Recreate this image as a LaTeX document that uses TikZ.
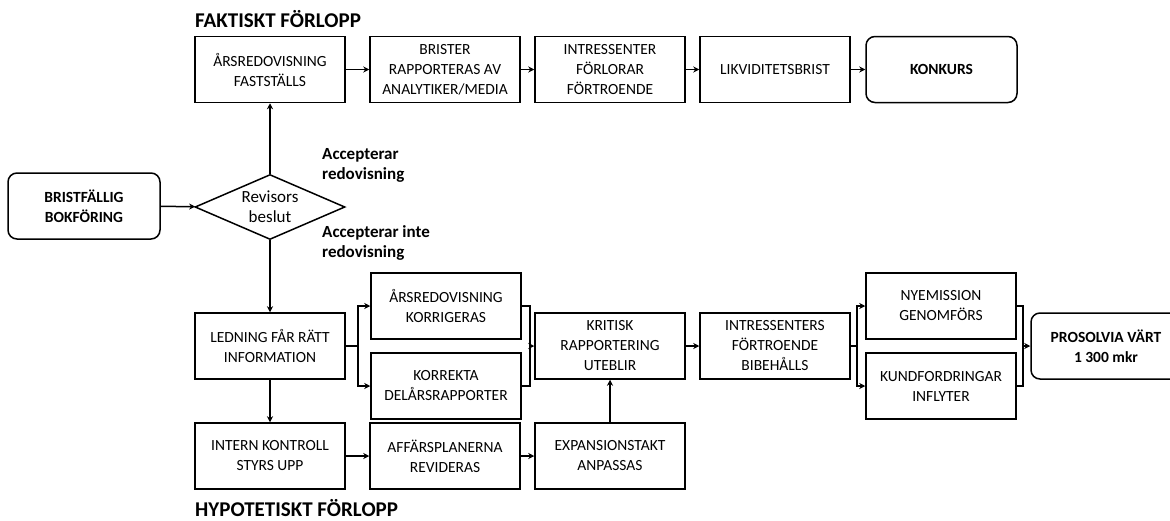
\documentclass[tikz,border=0pt]{standalone}
\usepackage{fontspec}
\setmainfont{Carlito}
\usetikzlibrary{shapes.geometric,arrows.meta}
\begin{document}
\begin{tikzpicture}[x=1pt,y=-1pt,
  box/.style={draw, line width=1.5pt, minimum width=150pt, minimum height=66pt, align=center, inner sep=1pt,
    font=\fontsize{15.5}{20}\selectfont},
  rbox/.style={box, rounded corners=9pt, font=\bfseries\fontsize{15.5}{20}\selectfont},
  title/.style={font=\bfseries\fontsize{21}{24}\selectfont, anchor=west, inner sep=0pt},
  lbl/.style={font=\bfseries\fontsize{17}{20}\selectfont, align=left, anchor=west, inner sep=0pt},
  conn/.style={line width=1.5pt},
  arr/.style={conn, -{Stealth[length=6pt,width=6pt]}},
  ]
\useasboundingbox (0,0) rectangle (1170,520);

% titles
\node[title] (t1) at (195,19) {FAKTISKT FÖRLOPP};
\node[title] (t2) at (195,508) {HYPOTETISKT FÖRLOPP};

% top row
\node[box] (fast) at (270,69.5) {ÅRSREDOVISNING\\FASTSTÄLLS};
\node[box] (brist) at (445,69.5) {BRISTER\\RAPPORTERAS AV\\ANALYTIKER/MEDIA};
\node[box] (intr) at (610,69.5) {INTRESSENTER\\FÖRLORAR\\FÖRTROENDE};
\node[box] (likv) at (775,69.5) {LIKVIDITETSBRIST};
\node[rbox, minimum width=151pt] (konk) at (941.5,69.5) {KONKURS};

% middle
\node[rbox, minimum width=152pt] (bokf) at (84,206) {BRISTFÄLLIG\\BOKFÖRING};
\node[draw, diamond, line width=1.5pt, shape aspect=2.3, minimum width=150pt, minimum height=65pt, inner sep=0pt,
  align=center, font=\fontsize{17}{20}\selectfont] (dia) at (270,207) {Revisors\\beslut};
\node[lbl] (acc) at (322,165) {Accepterar\\redovisning};
\node[lbl] (accn) at (322,243) {Accepterar inte\\redovisning};

% lower block
\node[box] (led) at (270,346) {LEDNING FÅR RÄTT\\INFORMATION};
\node[box] (korr) at (446,306) {ÅRSREDOVISNING\\KORRIGERAS};
\node[box] (dela) at (446,386) {KORREKTA\\DELÅRSRAPPORTER};
\node[box] (krit) at (610,346) {KRITISK\\RAPPORTERING\\UTEBLIR};
\node[box] (bibe) at (775,346) {INTRESSENTERS\\FÖRTROENDE\\BIBEHÅLLS};
\node[box] (nyem) at (941,306) {NYEMISSION\\GENOMFÖRS};
\node[box] (kund) at (941,386) {KUNDFORDRINGAR\\INFLYTER};
\node[rbox, minimum width=150pt] (pros) at (1106,346) {PROSOLVIA VÄRT\\1 300 mkr};

% bottom row
\node[box] (intk) at (270,456) {INTERN KONTROLL\\STYRS UPP};
\node[box] (affa) at (445,456) {AFFÄRSPLANERNA\\REVIDERAS};
\node[box] (expa) at (610,456) {EXPANSIONSTAKT\\ANPASSAS};

% helper coordinates
\coordinate (f1) at (358,346);
\coordinate (f2) at (530,346);
\coordinate (f3) at (857,346);
\coordinate (f4) at (1023,346);

% connectors top
\draw[arr] (fast) -- (brist);
\draw[arr] (brist) -- (intr);
\draw[arr] (intr) -- (likv);
\draw[arr] (likv) -- (konk);
\draw[arr] (bokf) -- (dia);
\draw[arr] (dia.north) -- (fast.south);
\draw[arr] (dia.south) -- (led.north);

% fork 1
\draw[conn] (led.east) -- (f1);
\draw[arr] (f1) |- (korr.west);
\draw[arr] (f1) |- (dela.west);
% merge 1
\draw[conn] (korr.east) -| (f2);
\draw[conn] (dela.east) -| (f2);
\draw[arr] (f2) -- (krit.west);
\draw[arr] (krit) -- (bibe);
% fork 2
\draw[conn] (bibe.east) -- (f3);
\draw[arr] (f3) |- (nyem.west);
\draw[arr] (f3) |- (kund.west);
% merge 2
\draw[conn] (nyem.east) -| (f4);
\draw[conn] (kund.east) -| (f4);
\draw[arr] (f4) -- (pros.west);

% bottom
\draw[arr] (led.south) -- (intk.north);
\draw[arr] (intk) -- (affa);
\draw[arr] (affa) -- (expa);
\draw[arr] (expa.north) -- (krit.south);
\end{tikzpicture}
\end{document}
